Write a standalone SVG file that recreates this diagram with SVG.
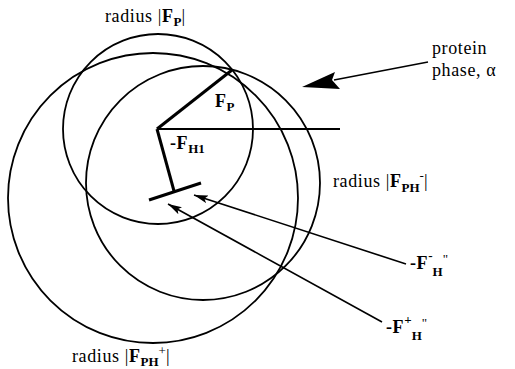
<svg xmlns="http://www.w3.org/2000/svg" width="515" height="369" viewBox="0 0 515 369">
<style>
.c{fill:none;stroke:#000;stroke-width:1.8}
.v{fill:none;stroke:#000;stroke-width:3;stroke-linecap:butt}
.l{fill:none;stroke:#000;stroke-width:1.8}
.a{fill:none;stroke:#000;stroke-width:1.6}
.t{font-family:"Liberation Serif","Times New Roman",serif;font-size:18px;letter-spacing:0.6px;fill:#000}
.b{font-weight:bold}
.s{font-size:13px;letter-spacing:0}
</style>
<defs>
<marker id="ah" viewBox="0 0 14 8" refX="14" refY="4" markerWidth="14" markerHeight="8" markerUnits="userSpaceOnUse" orient="auto">
<path d="M0,0 L14,4 L0,8 L3,4 Z" fill="#000"/>
</marker>
</defs>
<g id="circles">
<circle id="circle-FP" class="c" cx="158" cy="129" r="95"/>
<circle id="circle-FPH-minus" class="c" cx="203" cy="183" r="117"/>
<circle id="circle-FPH-plus" class="c" cx="153" cy="198" r="145"/>
</g>
<g id="connectors">
<line class="v" x1="157" y1="129" x2="232" y2="70"/>
<line class="v" x1="157" y1="129" x2="174" y2="191"/>
<line class="v" x1="149" y1="200" x2="201" y2="183"/>
<line class="l" x1="157" y1="129" x2="340" y2="129"/>
<line class="a" x1="406" y1="264" x2="194" y2="195" marker-end="url(#ah)"/>
<line class="a" x1="382" y1="322" x2="168" y2="204" marker-end="url(#ah)"/>
<line class="a" x1="428" y1="62" x2="334" y2="80"/>
<path d="M302,87 L335,72 L332,80 L340,89 Z" fill="#000"/>
</g>
<g id="label-FP-radius"><text class="t" x="105" y="22">radius |<tspan class="b">F</tspan><tspan class="b s" dy="4">P</tspan><tspan dy="-4">|</tspan></text></g>
<g id="label-protein"><text class="t" x="432" y="54">protein</text><text class="t" x="432" y="76">phase, α</text></g>
<g id="label-FP"><text class="t b" x="215" y="107" font-size="20">F<tspan class="s" dy="4">P</tspan></text></g>
<g id="label-FH1"><text class="t b" x="170" y="149" font-size="19">-F<tspan class="s" dy="4">H1</tspan></text></g>
<g id="label-FPH-minus"><text class="t" x="333" y="187">radius |<tspan class="b">F</tspan><tspan class="b s" dy="5">PH</tspan><tspan class="s" dy="-12">-</tspan><tspan dy="7">|</tspan></text></g>
<g id="label-FH-minus"><text class="t b" x="410" y="269" font-size="20">-F<tspan class="s" dy="-9">-</tspan><tspan class="s" dy="16">H</tspan><tspan class="s" dy="-13" font-weight="normal">"</tspan></text></g>
<g id="label-FH-plus"><text class="t b" x="386" y="333" font-size="20">-F<tspan class="s" dy="-9">+</tspan><tspan class="s" dy="16">H</tspan><tspan class="s" dy="-13" font-weight="normal">"</tspan></text></g>
<g id="label-FPH-plus"><text class="t" x="72" y="362">radius |<tspan class="b">F</tspan><tspan class="b s" dy="4">PH</tspan><tspan class="s" dy="-11">+</tspan><tspan dy="7">|</tspan></text></g>
</svg>
